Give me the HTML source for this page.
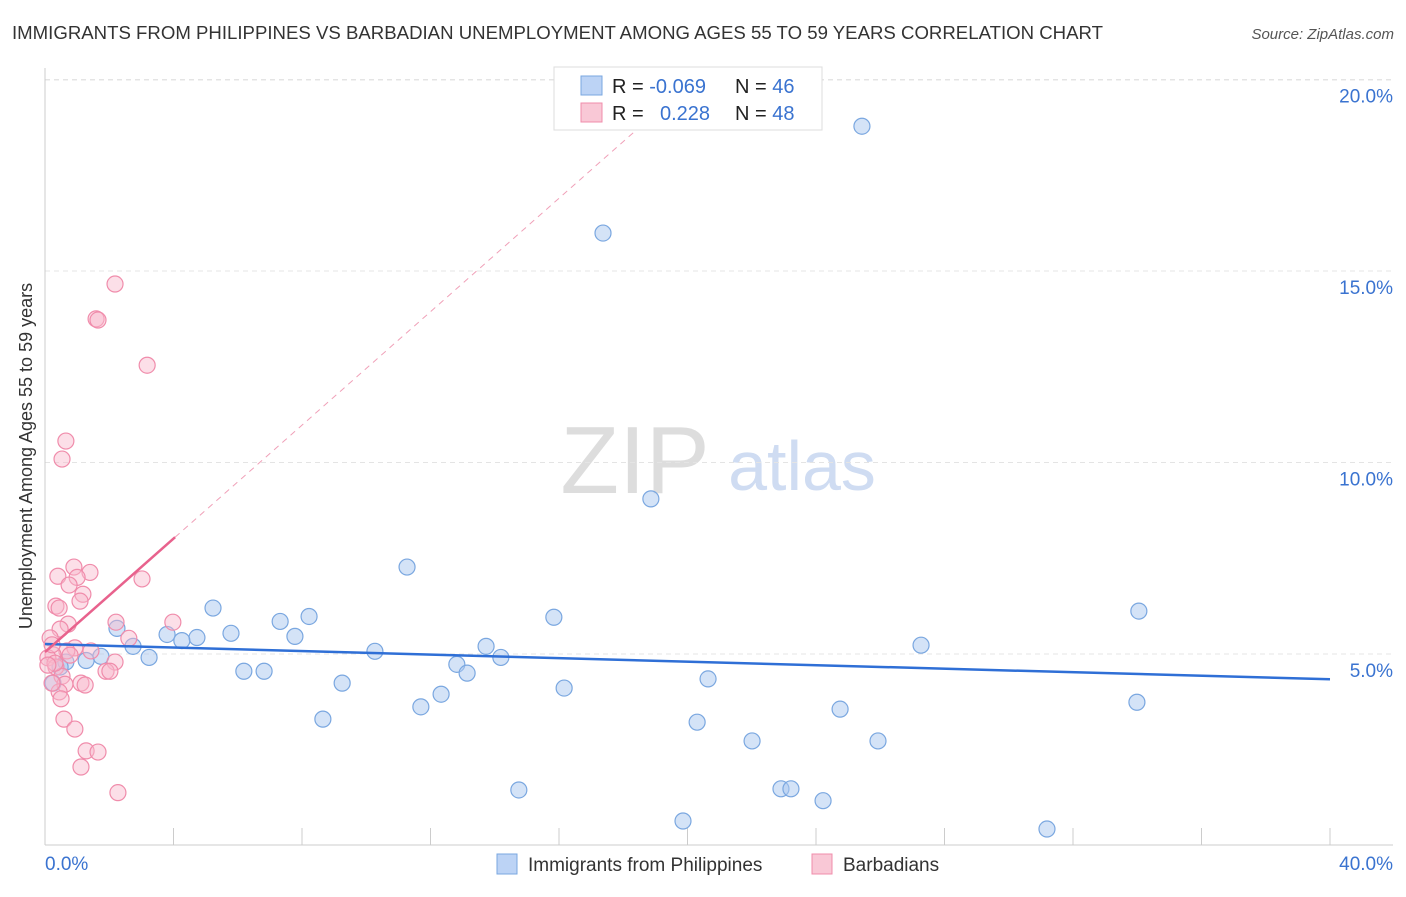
<!DOCTYPE html>
<html><head><meta charset="utf-8">
<style>
body{margin:0;background:#fff;font-family:"Liberation Sans",sans-serif;}
svg text{font-family:"Liberation Sans",sans-serif;}
</style></head>
<body>
<svg id="chart" width="1406" height="892">
<text x="12" y="39" font-size="18" fill="#333" textLength="1091" lengthAdjust="spacingAndGlyphs">IMMIGRANTS FROM PHILIPPINES VS BARBADIAN UNEMPLOYMENT AMONG AGES 55 TO 59 YEARS CORRELATION CHART</text>
<text x="1394" y="39" font-size="15" fill="#555" font-style="italic" text-anchor="end">Source: ZipAtlas.com</text>
<text x="32" y="456" font-size="18" fill="#333" text-anchor="middle" transform="rotate(-90 32 456)">Unemployment Among Ages 55 to 59 years</text>
<g><text x="635" y="493" font-size="96" fill="#ddd" text-anchor="middle" font-family="Liberation Serif">ZIP</text><text x="802" y="490" font-size="70" fill="#cfdcf2" text-anchor="middle">atlas</text></g>
<g id="grid"></g><g id="axes"></g><g id="pts"></g><g id="lines"></g>
<g>
<rect x="554" y="67" width="268" height="63" fill="#fff" stroke="#ddd"/>
<rect x="581" y="76" width="21" height="19" fill="#bcd3f5" stroke="#7aa7e0"/>
<rect x="581" y="103" width="21" height="19" fill="#f9c8d6" stroke="#f08cab"/>
<text x="612" y="93" font-size="20" fill="#222">R = <tspan fill="#3a73d0">-0.069</tspan></text>
<text x="735" y="93" font-size="20" fill="#222">N = <tspan fill="#3a73d0">46</tspan></text>
<text x="612" y="120" font-size="20" fill="#222">R = <tspan fill="#3a73d0" x="660">0.228</tspan></text>
<text x="735" y="120" font-size="20" fill="#222">N = <tspan fill="#3a73d0">48</tspan></text>
</g>
<g>
<rect x="497" y="854" width="20" height="20" fill="#bcd3f5" stroke="#7aa7e0"/>
<text x="528" y="871" font-size="19" fill="#333">Immigrants from Philippines</text>
<rect x="812" y="854" width="20" height="20" fill="#f9c8d6" stroke="#f08cab"/>
<text x="843" y="871" font-size="19" fill="#333">Barbadians</text>
</g>
</svg>
<script>
const yTicks=[5,10,15,20];
const yTickLabels=["5.0%","10.0%","15.0%","20.0%"];
const xTicks=[0,4,8,12,16,20,24,28,32,36,40];
const blueX=[25.43,17.37,18.86,11.27,34.05,5.23,15.84,8.22,7.32,2.24,5.79,3.80,7.78,4.73,4.26,2.74,13.73,10.27,27.27,1.74,3.24,1.28,14.19,12.82,13.14,6.19,6.82,0.65,0.25,9.25,20.64,16.16,12.33,11.70,24.75,33.99,8.65,20.30,22.01,25.93,14.75,22.91,23.22,24.22,19.86,31.19,0.47];
const blueY=[18.78,15.99,9.05,7.27,6.12,6.20,5.96,5.98,5.85,5.67,5.54,5.51,5.46,5.43,5.35,5.20,5.20,5.07,5.23,4.94,4.91,4.83,4.91,4.73,4.50,4.55,4.55,4.79,4.24,4.24,4.35,4.11,3.95,3.62,3.56,3.74,3.30,3.22,2.73,2.73,1.45,1.48,1.48,1.17,0.64,0.43,4.66];
const pinkX=[2.18,1.59,1.65,3.18,0.65,0.53,0.90,1.40,0.40,1.00,3.02,0.75,1.18,1.09,0.34,0.44,3.98,2.21,0.72,0.47,2.61,0.16,0.93,0.68,1.43,0.25,0.09,2.18,1.90,2.02,0.34,0.53,1.12,1.25,0.62,0.44,0.50,0.22,0.59,0.93,1.28,1.65,1.12,2.27,0.31,0.78,0.09,0.22];
const pinkY=[14.66,13.75,13.72,12.54,10.56,10.09,7.27,7.13,7.03,7.00,6.96,6.80,6.56,6.38,6.25,6.20,5.83,5.83,5.78,5.65,5.41,5.42,5.16,5.08,5.08,4.98,4.90,4.79,4.55,4.55,4.66,4.42,4.24,4.19,4.21,4.01,3.83,4.24,3.30,3.04,2.47,2.44,2.05,1.38,4.76,4.97,4.71,5.24];
const blueTrend=[[0,5.26],[40,4.34]];
const pinkTrend=[[0,5.05],[4.05,8.05]];
const pinkDash=[[4.05,8.05],[18.5,18.75]];
const X=v=>45+v/40*1285, Y=v=>845.5-v*38.3;
const NS="http://www.w3.org/2000/svg";
function mk(p,t,a){const e=document.createElementNS(NS,t);for(const k in a)e.setAttribute(k,a[k]);document.getElementById(p).appendChild(e);return e;}
let tl=mk('grid','line',{x1:45,x2:1393,y1:80,y2:80,stroke:'#e4e4e4','stroke-dasharray':'5,4'});


yTicks.forEach((v,i)=>{
 const g=mk('grid','line',{x1:45,x2:1393,y1:Y(v),y2:Y(v),stroke:'#e4e4e4','stroke-dasharray':'5,4'});
 
 
 const t=mk('axes','text',{x:1393,y:Y(v)+23,'font-size':19,fill:'#3a73d0','text-anchor':'end'});
 t.textContent=yTickLabels[i];
 
 
});
let ax=mk('axes','line',{x1:45,x2:1393,y1:845,y2:845,stroke:'#ccc'});


let ay=mk('axes','line',{x1:45,x2:45,y1:68,y2:845,stroke:'#ccc'});


xTicks.forEach(v=>{
 const l=mk('axes','line',{x1:X(v),x2:X(v),y1:828,y2:845,stroke:'#ccc'});
 
 
});
[[0,"0.0%",'start',45],[40,"40.0%",'end',1393]].forEach(d=>{
 const t=mk('axes','text',{x:d[3],y:870,'font-size':19,fill:'#3a73d0','text-anchor':d[2]});
 t.textContent=d[1];
 
 
});
blueX.forEach((v,i)=>{
 const c=mk('pts','circle',{cx:X(v),cy:Y(blueY[i]),r:8,fill:'rgba(170,200,240,0.5)',stroke:'#7aa7e0','stroke-width':1.2});
 
 
});
pinkX.forEach((v,i)=>{
 const c=mk('pts','circle',{cx:X(v),cy:Y(pinkY[i]),r:8,fill:'rgba(248,185,205,0.45)',stroke:'#f08cab','stroke-width':1.2});
 
 
});
let bl=mk('lines','line',{x1:X(blueTrend[0][0]),y1:Y(blueTrend[0][1]),x2:X(blueTrend[1][0]),y2:Y(blueTrend[1][1]),stroke:'#2f6fd6','stroke-width':2.5});


let pl=mk('lines','line',{x1:X(pinkTrend[0][0]),y1:Y(pinkTrend[0][1]),x2:X(pinkTrend[1][0]),y2:Y(pinkTrend[1][1]),stroke:'#e8628d','stroke-width':2.5});


let pd=mk('lines','line',{x1:X(pinkDash[0][0]),y1:Y(pinkDash[0][1]),x2:X(pinkDash[1][0]),y2:Y(pinkDash[1][1]),stroke:'#f0a0b8','stroke-width':1,'stroke-dasharray':'6,5'});


</script>
</body></html>
